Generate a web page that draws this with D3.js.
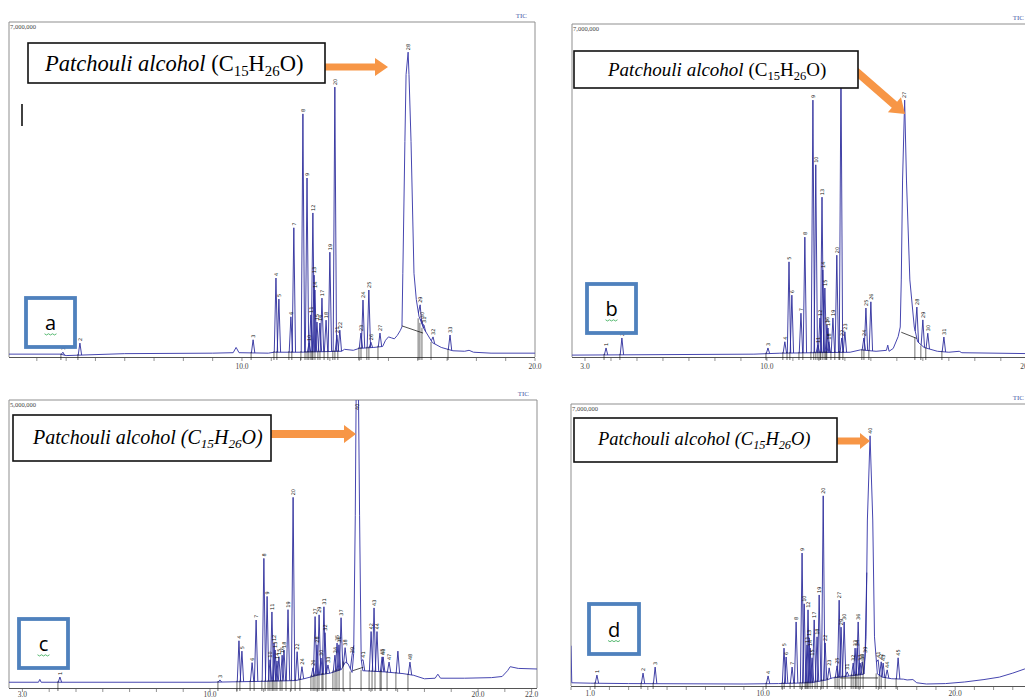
<!DOCTYPE html>
<html>
<head>
<meta charset="utf-8">
<script src="https://cdn.jsdelivr.net/npm/d3@7"></script>
<style>
    body { margin: 0; background: #fff; }
    svg { display: block; }
</style>
</head>
<body>
<svg id="mainsvg" width="1025" height="698"></svg>
<script>
// ---- data (retention time in min, intensity in millions of counts) ----
// panel a
let aTimes = [3.89,4.47,10.38,11.16,11.26,11.67,11.77,12.08,12.22,12.29,12.35,12.42,12.46,12.49,12.56,12.66,12.73,12.87,13.00,13.17,13.24,13.34,14.06,14.13,14.33,14.40,14.71,16.08,16.14,16.21,16.52,17.10];
let aHeights = [0.10,0.29,0.36,1.65,1.21,0.84,2.70,5.08,3.74,0.29,0.88,3.01,1.71,1.40,0.73,0.71,1.23,0.77,2.19,5.64,0.46,0.56,0.50,1.19,1.40,0.31,0.50,1.09,0.77,0.67,0.42,0.46];
let aLabels = ["1","2","3","4","5","6","7","8","9","10","11","12","13","14","15","16","17","18","19","20","21","22","23","24","25","26","27","29","30","31","32","33"];
let aTrace = [[2.05,0.06],[3.8,0.06],[4.0,0.03],[6.0,0.07],[9.0,0.08],[9.7,0.09],[9.8,0.2],[9.9,0.09],[10.9,0.08],[11.1,0.1],[12.0,0.1],[13.4,0.12],[13.5,0.16],[13.8,0.14],[14.0,0.18],[14.5,0.2],[14.8,0.22],[14.9,0.35],[15.0,0.42],[15.1,0.4],[15.2,0.38],[15.3,0.45],[15.4,0.55],[15.46,0.63],[15.49,1.75],[15.56,4.5],[15.60,5.9],[15.67,6.37],[15.70,5.9],[15.77,4.5],[15.87,1.75],[15.95,1.2],[16.04,0.85],[16.2,0.6],[16.5,0.3],[16.8,0.2],[17.2,0.13],[17.6,0.12],[17.75,0.14],[17.9,0.1],[18.5,0.08],[20.0,0.08]];
let aMain = [15.67, 6.37, "28"];
let aIntegration = [[15.46,0.65],[16.18,0.5]];
let aTicks = [10, 20];

// panel b
let bTimes = [3.81,4.42,10.04,10.69,10.85,10.96,11.31,11.46,11.77,11.88,11.96,12.04,12.12,12.15,12.23,12.31,12.35,12.38,12.54,12.69,12.85,12.88,13.00,13.73,13.81,14.00,15.77,16.00,16.19,16.81];
let bHeights = [0.19,0.40,0.19,0.32,2.00,1.30,0.92,2.52,5.40,4.04,0.25,0.82,3.36,1.83,1.45,0.67,0.61,0.32,0.82,2.14,6.1,0.40,0.53,0.40,1.03,1.16,1.05,0.78,0.50,0.42];
let bLabels = ["1","2","3","4","5","6","7","8","9","10","11","12","13","14","15","16","17","18","19","20","21","22","23","24","25","26","28","29","30","31"];
let bTrace = [[2.5,0.04],[9.5,0.06],[10.5,0.08],[13.2,0.1],[13.6,0.15],[14.2,0.12],[14.6,0.14],[14.65,0.25],[14.7,0.12],[14.86,0.18],[15.05,0.43],[15.13,0.63],[15.17,1.62],[15.22,3.72],[15.30,5.40],[15.37,3.72],[15.50,1.62],[15.67,0.63],[15.8,0.32],[16.05,0.2],[16.56,0.12],[17.0,0.1],[17.4,0.12],[17.5,0.09],[20.2,0.07]];
let bMain = [15.30, 5.40, "27"];
let bIntegration = [[15.17,0.52],[15.77,0.39]];
let bTicks = [3, 10, 20];

// panel c
let cTimes = [4.40,10.37,11.08,11.19,11.57,11.72,12.01,12.13,12.24,12.31,12.39,12.43,12.50,12.57,12.69,12.76,12.91,13.10,13.25,13.43,13.84,13.92,13.99,14.07,14.14,14.25,14.29,14.40,14.66,14.74,14.81,14.89,15.04,15.30,15.71,16.01,16.12,16.23,16.42,16.46,16.68,17.01,17.46];
let cHeights = [0.19,0.14,0.82,0.64,0.44,1.18,2.25,1.59,0.49,1.32,0.78,0.66,0.47,0.54,0.57,0.66,1.36,3.31,0.63,0.37,0.35,1.24,0.75,1.27,0.52,1.41,0.96,0.40,0.57,0.78,0.75,1.22,0.70,0.57,0.49,0.98,1.39,0.98,0.54,0.54,0.45,0.64,0.45];
let cLabels = ["1","3","4","5","6","7","8","9","10","11","12","13","14","15","16","18","19","20","22","24","26","27","28","29","30","31","32","33","34","35","36","37","38","39","41","42","43","44","45","46","47","","48"];
let cTrace = [[2.5,0.1],[3.6,0.1],[3.65,0.15],[3.7,0.1],[10.0,0.1],[12.5,0.12],[13.2,0.13],[13.5,0.16],[14.0,0.22],[14.5,0.26],[14.9,0.32],[15.05,0.45],[15.15,0.42],[15.3,0.27],[15.36,0.6],[15.42,3.0],[15.46,5.6],[15.53,5.6],[15.58,3.0],[15.64,0.5],[15.7,0.3],[16.5,0.28],[17.2,0.25],[17.6,0.22],[18.0,0.16],[18.4,0.17],[18.5,0.24],[18.6,0.17],[19.5,0.17],[20.5,0.18],[20.9,0.2],[21.1,0.3],[21.2,0.37],[21.5,0.34],[22.2,0.33]];
let cMain = [15.49, 5.6, "40"];
let cIntegration = [[15.32,0.3],[15.72,0.36]];
let cTicks = [3, 10, 20, 22];

// panel d
let dTimes = [1.35,3.75,4.38,10.26,11.09,11.20,11.51,11.72,12.03,12.14,12.29,12.34,12.40,12.45,12.55,12.66,12.81,12.92,13.13,13.23,13.44,13.85,13.96,14.06,14.22,14.38,14.69,14.79,14.90,14.95,15.05,15.16,15.31,15.99,16.15,16.25,16.46,17.03];
let dHeights = [0.27,0.32,0.47,0.25,0.94,0.72,0.47,1.59,3.30,2.04,1.02,1.89,1.19,0.94,0.70,1.64,1.22,2.26,4.72,1.07,0.45,0.50,2.13,1.46,1.59,0.35,0.57,0.94,0.94,1.59,0.57,0.60,0.77,0.65,0.60,0.57,0.40,0.70];
let dLabels = ["1","2","3","4","5","6","7","8","9","10","11","12","13","14","15","17","18","19","20","22","23","25","27","29","30","31","32","33","34","36","37","38","39","41","42","43","44","45"];
let dTrace = [[0,1.0],[0.04,0.08],[1.0,0.07],[3.0,0.06],[9.0,0.05],[10.8,0.06],[12.5,0.08],[13.3,0.15],[13.6,0.2],[14.0,0.22],[14.5,0.25],[15.1,0.28],[15.26,0.3],[15.36,1.22],[15.43,4.12],[15.57,6.21],[15.71,4.12],[15.80,1.22],[15.95,0.3],[16.2,0.22],[16.7,0.18],[17.3,0.17],[17.5,0.15],[17.8,0.16],[18.0,0.08],[18.5,0.05],[19.5,0.06],[20.5,0.1],[21.5,0.16],[22.3,0.22],[23.0,0.32],[23.6,0.42],[24.0,0.5]];
let dMain = [15.57, 6.21, "40"];
let dIntegration = [[14.01,0.2],[15.99,0.2]];
let dTicks = [1, 10, 20];

// ---- drawing ----
let svg = d3.select("#mainsvg");
let defs = svg.append("defs");
let traceColor = "#4646b0";
let peakColor = "#2c2c9c";
let orange = "#f79646";
let boxBlue = "#4f81bd";

let arrowPath = function(x1, y1, x2, y2, th, hl, hw) {
    let dx = x2 - x1, dy = y2 - y1, L = Math.hypot(dx, dy);
    let ux = dx / L, uy = dy / L, nx = -uy, ny = ux;
    let bx = x2 - ux * hl, by = y2 - uy * hl;
    let pts = [
        [x1 + nx * th / 2, y1 + ny * th / 2], [bx + nx * th / 2, by + ny * th / 2],
        [bx + nx * hw, by + ny * hw], [x2, y2], [bx - nx * hw, by - ny * hw],
        [bx - nx * th / 2, by - ny * th / 2], [x1 - nx * th / 2, y1 - ny * th / 2]
    ];
    return "M" + pts.map(p => p[0].toFixed(1) + "," + p[1].toFixed(1)).join("L") + "Z";
};

let drawPanel = function(p) {
    let g = svg.append("g").attr("id", "panel-" + p.id);
    let x = d3.scaleLinear().domain(p.xDomain).range([p.x0, p.x1]);
    let y = d3.scaleLinear().domain([0, p.yMax]).range([p.axis, p.top]);
    let base = d3.scaleLinear().domain(p.trace.map(d => d[0])).range(p.trace.map(d => d[1])).clamp(true);

    defs.append("clipPath").attr("id", "clip-" + p.id)
        .append("rect").attr("x", p.x0).attr("y", p.top).attr("width", p.x1 - p.x0).attr("height", p.axis - p.top);

    // frame
    g.append("path")
        .attr("d", `M${p.x0},${p.axis}V${p.top}H${p.x1}V${p.axis}`)
        .attr("fill", "none").attr("stroke", "#8f8f8f").attr("stroke-width", 1);
    g.append("line").attr("x1", p.x0).attr("x2", p.x1).attr("y1", p.axis + 0.5).attr("y2", p.axis + 0.5)
        .attr("stroke", "#555").attr("stroke-width", 1);

    // minute ticks
    let minutes = d3.range(Math.ceil(p.xDomain[0]), Math.floor(p.xDomain[1]) + 1);
    g.selectAll(".tick").data(minutes).enter().append("line")
        .attr("x1", d => x(d)).attr("x2", d => x(d))
        .attr("y1", p.axis + 1).attr("y2", p.axis + 4)
        .attr("stroke", "#666").attr("stroke-width", 0.7);
    g.selectAll(".ticklabel").data(p.ticks).enter().append("text")
        .attr("x", d => x(d)).attr("y", p.axis + p.labelOffset)
        .attr("text-anchor", "middle")
        .attr("font-family", "Liberation Serif").attr("font-size", 7.5).attr("fill", "#444")
        .text(d => d3.format(".1f")(d));

    g.append("text").attr("x", p.x0 + 1).attr("y", p.top + 7)
        .attr("font-family", "Liberation Serif").attr("font-size", 6.5).attr("fill", "#444")
        .text(p.yLabel);
    g.append("text").attr("x", p.x1 - 8).attr("y", p.top - 4)
        .attr("text-anchor", "end")
        .attr("font-family", "Liberation Serif").attr("font-size", 7).attr("fill", "#4a5aa8")
        .text("TIC");

    let plot = g.append("g").attr("clip-path", `url(#clip-${p.id})`);

    // baseline trace with broad peaks
    let line = d3.line().x(d => x(d[0])).y(d => y(d[1]));
    plot.append("path").datum(p.trace).attr("d", line)
        .attr("fill", "none").attr("stroke", traceColor).attr("stroke-width", 1).attr("stroke-linejoin", "round");

    plot.append("path").datum(p.integration).attr("d", line)
        .attr("fill", "none").attr("stroke", "#222").attr("stroke-width", 0.8);

    // sharp peaks
    let peaks = p.times.map((t, i) => ({t: t, v: p.heights[i], label: p.labels[i]}));
    let hw = 1.7;
    plot.selectAll(".peak").data(peaks).enter().append("path")
        .attr("class", "peak")
        .attr("d", d => {
            let cx = x(d.t);
            let bl = y(base(x.invert(cx - hw))), br = y(base(x.invert(cx + hw)));
            return `M${cx - hw},${bl}L${cx},${y(d.v)}L${cx + hw},${br}`;
        })
        .attr("fill", "none").attr("stroke", peakColor).attr("stroke-width", 0.9).attr("stroke-linejoin", "round");

    // integration mark at the start of each peak
    g.selectAll(".imark").data(peaks).enter().append("path")
        .attr("d", d => {
            let cx = x(d.t) - hw - 0.3;
            let yb = y(base(d.t));
            return `M${cx},${yb - 1}V${p.axis + 3}`;
        })
        .attr("stroke", "#111").attr("stroke-width", 0.6);

    // peak labels
    let allLabels = peaks.concat([{t: p.main[0], v: p.main[1], label: p.main[2]}]).filter(d => d.label !== "");
    g.selectAll(".plabel").data(allLabels).enter().append("text")
        .attr("transform", d => `translate(${x(d.t) + 1.8},${Math.max(y(d.v) - 2, p.top + 10)}) rotate(-90)`)
        .attr("font-family", "DejaVu Sans").attr("font-size", 5).attr("fill", "#111")
        .text(d => d.label);

    return g;
};

let drawNote = function(r) {
    let g = svg.append("g");
    g.append("path").attr("d", arrowPath(r.ax1, r.ay1, r.ax2, r.ay2, r.th, r.hl, r.hw)).attr("fill", orange);
    g.append("rect").attr("x", r.x).attr("y", r.y).attr("width", r.w).attr("height", r.h)
        .attr("fill", "#fff").attr("stroke", "#111").attr("stroke-width", 1.6);
    let text = g.append("text").attr("x", r.tx).attr("y", r.ty)
        .attr("font-family", "Liberation Serif").attr("font-size", r.fs).attr("fill", "#000");
    let shift = r.fs * 0.2;
    let parts = [["Patchouli alcohol", 0], [" (C", 0], ["15", 1], ["H", 0], ["26", 1], ["O)", 0]];
    let prevSub = 0;
    parts.forEach((pt, i) => {
        let ts = text.append("tspan").text(pt[0])
            .attr("font-style", (i === 0 || r.allItalic) ? "italic" : "normal");
        if (pt[1]) ts.attr("font-size", r.fs * 0.66);
        let dy = (pt[1] ? shift : 0) - (prevSub ? shift : 0);
        if (dy !== 0) ts.attr("dy", dy);
        prevSub = pt[1];
    });
};

let drawLetter = function(r) {
    let g = svg.append("g");
    g.append("rect").attr("x", r.x).attr("y", r.y).attr("width", r.s).attr("height", r.s)
        .attr("fill", "#fff").attr("stroke", boxBlue).attr("stroke-width", 3.8);
    let cx = r.x + r.s / 2;
    g.append("text").attr("x", cx).attr("y", r.y + r.s * 0.66)
        .attr("text-anchor", "middle")
        .attr("font-family", "Open Sans").attr("font-size", 20).attr("fill", "#000")
        .text(r.letter);
    let zig = d3.range(0, 7).map(i => [cx - 6 + i * 2, r.y + r.s * 0.73 + (i % 2 ? 1.2 : 0)]);
    g.append("path").attr("d", d3.line()(zig)).attr("fill", "none").attr("stroke", "#2fa84f").attr("stroke-width", 0.8);
};

drawPanel({id: "a", x0: 9, x1: 535, top: 22, axis: 357, labelOffset: 12, xDomain: [2.05, 20], yMax: 7, yLabel: "7,000,000",
    ticks: aTicks, times: aTimes, heights: aHeights, labels: aLabels, trace: aTrace, main: aMain, integration: aIntegration});
drawPanel({id: "b", x0: 572, x1: 1032, top: 24, axis: 357, labelOffset: 12, xDomain: [2.5, 20.2], yMax: 7, yLabel: "7,000,000",
    ticks: bTicks, times: bTimes, heights: bHeights, labels: bLabels, trace: bTrace, main: bMain, integration: bIntegration});
drawPanel({id: "c", x0: 9, x1: 537, top: 400, axis: 688, labelOffset: 9, xDomain: [2.5, 22.2], yMax: 5, yLabel: "5,000,000",
    ticks: cTicks, times: cTimes, heights: cHeights, labels: cLabels, trace: cTrace, main: cMain, integration: cIntegration});
drawPanel({id: "d", x0: 571, x1: 1032, top: 404, axis: 686, labelOffset: 10, xDomain: [0, 24], yMax: 7, yLabel: "7,000,000",
    ticks: dTicks, times: dTimes, heights: dHeights, labels: dLabels, trace: dTrace, main: dMain, integration: dIntegration});

// text cursor mark in panel a
svg.append("line").attr("x1", 22).attr("x2", 22).attr("y1", 104).attr("y2", 126).attr("stroke", "#111").attr("stroke-width", 1.6);

drawNote({x: 28, y: 43, w: 297, h: 40, tx: 45, ty: 71, fs: 22.5, allItalic: false,
    ax1: 320, ay1: 67, ax2: 388, ay2: 67, th: 7, hl: 13, hw: 9});
drawNote({x: 574, y: 51, w: 284, h: 37, tx: 608, ty: 76, fs: 19, allItalic: false,
    ax1: 850, ay1: 66, ax2: 905, ay2: 114, th: 8, hl: 14, hw: 10});
drawNote({x: 13, y: 415, w: 258, h: 46, tx: 33, ty: 444, fs: 20, allItalic: true,
    ax1: 268, ay1: 434, ax2: 356, ay2: 434, th: 8, hl: 12, hw: 9});
drawNote({x: 574, y: 418, w: 263, h: 44, tx: 598, ty: 445, fs: 18.5, allItalic: true,
    ax1: 835, ay1: 441, ax2: 870, ay2: 441, th: 7, hl: 10, hw: 8});

drawLetter({x: 26, y: 298, s: 49, letter: "a"});
drawLetter({x: 587, y: 284, s: 49, letter: "b"});
drawLetter({x: 19, y: 619, s: 49, letter: "c"});
drawLetter({x: 589, y: 604, s: 50, letter: "d"});
</script>
</body>
</html>
